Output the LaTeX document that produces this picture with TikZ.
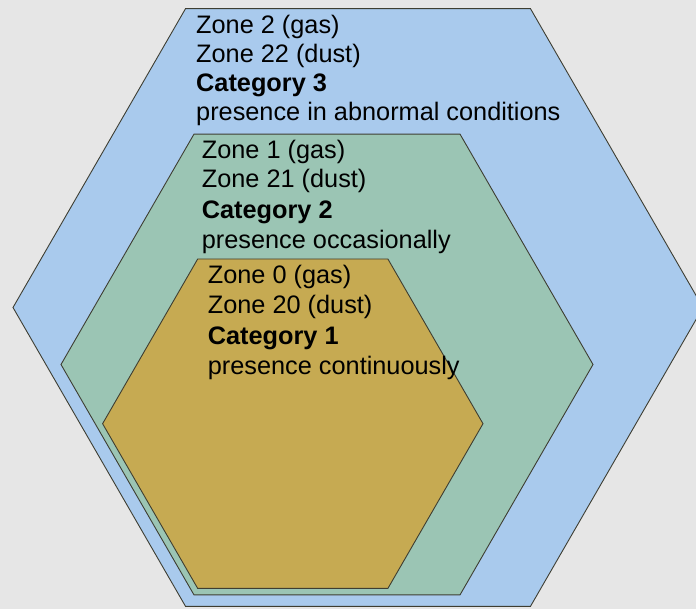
\documentclass[tikz,border=0pt]{standalone}
\usepackage{fontspec}
\setmainfont{Liberation Sans}
\definecolor{bgc}{HTML}{E6E6E6}
\definecolor{bluec}{HTML}{A9CAED}
\definecolor{greenc}{HTML}{9BC5B4}
\definecolor{brownc}{HTML}{C6AA52}
\definecolor{edgec}{HTML}{3E3E32}
\begin{document}
\begin{tikzpicture}[x=1pt,y=-1pt,
  hexa/.style={draw=edgec,line width=0.9pt,line join=miter},
  lbl/.style={anchor=base west,inner sep=0pt,font=\fontsize{25.3}{29}\selectfont,text=black},
  lblb/.style={lbl,font=\fontsize{25.3}{29}\selectfont\bfseries}]
\useasboundingbox (0,0) rectangle (696,609);
\fill[bgc] (0,0) rectangle (696,609);
\begin{scope}
\clip (0,0) rectangle (696,609);
\draw[hexa,fill=bluec] (185.5,8.7) -- (530.5,8.7) -- (703,307.5) -- (530.5,606.3) -- (185.5,606.3) -- (13,307.5) -- cycle;
\draw[hexa,fill=greenc] (194,134.1) -- (460,134.1) -- (593,364.5) -- (460,594.9) -- (194,594.9) -- (61,364.5) -- cycle;
\draw[hexa,fill=brownc] (197.7,259) -- (387.9,259) -- (483,423.7) -- (387.9,588.4) -- (197.7,588.4) -- (102.6,423.7) -- cycle;
\end{scope}
\node[lbl]  (a1) at (196,33.3) {Zone 2 (gas)};
\node[lbl]  (a2) at (196,62.5) {Zone 22 (dust)};
\node[lblb] (a3) at (196,91.5) {Category 3};
\node[lbl]  (a4) at (196,120.7) {presence in abnormal conditions};
\node[lbl]  (b1) at (201.7,158.5) {Zone 1 (gas)};
\node[lbl]  (b2) at (201.7,188) {Zone 21 (dust)};
\node[lblb] (b3) at (201.7,218.3) {Category 2};
\node[lbl]  (b4) at (201.7,248.3) {presence occasionally};
\node[lbl]  (c1) at (207.7,283.3) {Zone 0 (gas)};
\node[lbl]  (c2) at (207.7,313.5) {Zone 20 (dust)};
\node[lblb] (c3) at (207.7,344.3) {Category 1};
\node[lbl]  (c4) at (207.7,374) {presence continuously};
\end{tikzpicture}
\end{document}
